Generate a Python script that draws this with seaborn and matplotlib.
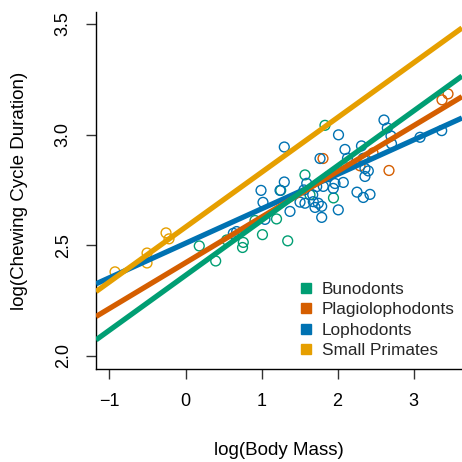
import numpy as np
import pandas as pd
import seaborn as sns
import matplotlib
matplotlib.use("Agg")
import matplotlib.pyplot as plt
from matplotlib.lines import Line2D

# ---- data -------------------------------------------------------------
groups = ["Bunodonts", "Plagiolophodonts", "Lophodonts", "Small Primates"]
colors = ["#009E73", "#D55E00", "#0072B2", "#E69F00"]

buno_x = [0.181, 0.397, 0.542, 0.760, 0.750, 1.012, 0.914, 1.197, 1.344, 1.252,
          1.571, 1.637, 1.834, 1.946]
buno_y = [2.497, 2.429, 2.524, 2.513, 2.490, 2.548, 2.612, 2.619, 2.520, 2.748,
          2.818, 2.728, 3.042, 2.714]

plagio_x = [1.808, 2.295, 2.466, 2.676, 3.373, 3.452]
plagio_y = [2.892, 2.859, 2.917, 2.838, 3.157, 3.184]

loph_x = [0.629, 0.673, 0.993, 1.019, 1.045, 1.243, 1.299, 1.299, 1.374, 1.506,
          1.558, 1.594, 1.571, 1.680, 1.703, 1.791, 1.791, 1.769, 1.812, 1.943,
          1.966, 2.075, 2.009, 2.012, 2.097, 2.130, 2.314, 2.255, 2.338, 2.426,
          2.360, 2.404, 2.360, 2.338, 2.610, 2.654, 2.702, 2.709, 3.084, 3.369,
          1.878, 1.725, 1.673, 1.746]
loph_y = [2.554, 2.562, 2.748, 2.694, 2.617, 2.748, 2.786, 2.944, 2.653, 2.695,
          2.750, 2.780, 2.690, 2.697, 2.671, 2.676, 2.626, 2.892, 2.766, 2.757,
          2.779, 2.784, 2.660, 2.999, 2.933, 2.893, 2.949, 2.740, 2.716, 2.730,
          2.847, 2.836, 2.811, 2.893, 3.066, 3.030, 2.994, 2.959, 2.988, 3.018,
          2.810, 2.765, 2.728, 2.690]

prim_x = [-0.927, -0.506, -0.506, -0.256, -0.217]
prim_y = [2.380, 2.465, 2.420, 2.556, 2.529]

# fitted lines (intercept, slope) in legend order
intercepts = [2.364, 2.421, 2.509, 2.582]
slopes = [0.2477, 0.2064, 0.1557, 0.2475]

x_ticks = [-1, 0, 1, 2, 3]
y_ticks = [2.0, 2.5, 3.0, 3.5]
y_tick_labels = ["2.0", "2.5", "3.0", "3.5"]

# ---- build frame -------------------------------------------------------
df = pd.concat([
    pd.DataFrame({"x": buno_x, "y": buno_y, "group": groups[0]}),
    pd.DataFrame({"x": plagio_x, "y": plagio_y, "group": groups[1]}),
    pd.DataFrame({"x": loph_x, "y": loph_y, "group": groups[2]}),
    pd.DataFrame({"x": prim_x, "y": prim_y, "group": groups[3]}),
], ignore_index=True)

sns.set_theme(style="ticks")
plt.rcParams["font.family"] = ["Liberation Sans", "DejaVu Sans"]

W = 462
fig = plt.figure(figsize=(W / 100, W / 100), dpi=100)
ax = fig.add_axes([96 / W, 93 / W, 366 / W, 357 / W])

pal = dict(zip(groups, colors))
sns.scatterplot(data=df, x="x", y="y", hue="group", palette=pal, s=50,
                linewidth=1.0, legend=False, ax=ax, zorder=2)
coll = ax.collections[0]
fc = coll.get_facecolors()
coll.set_edgecolors(fc)
coll.set_facecolors("none")

# lines: draw blue, orange, green, yellow
for i in [2, 1, 0, 3]:
    ax.axline((0, intercepts[i]), slope=slopes[i], color=colors[i], lw=3.8,
              zorder=3, solid_capstyle="butt")

ax.set_xlim(-1.177, 3.636)
ax.set_ylim(1.941, 3.554)
ax.set_xticks(x_ticks)
ax.set_xticklabels([str(v).replace("-", "\u2212") for v in x_ticks])
ax.set_yticks(y_ticks)
ax.set_yticklabels(y_tick_labels, rotation=90, va="center")

for s in ["top", "right"]:
    ax.spines[s].set_visible(False)
for s in ["left", "bottom"]:
    ax.spines[s].set_linewidth(1.0)
    ax.spines[s].set_color("black")
ax.tick_params(axis="both", length=7.5, width=1.0, color="#333333",
               labelsize=13, labelcolor="black")
ax.tick_params(axis="x", pad=10)
ax.tick_params(axis="y", pad=10)

ax.set_xlabel("log(Body Mass)", fontsize=13.5, color="black")
ax.set_ylabel("log(Chewing Cycle Duration)", fontsize=13.5, color="black")
ax.xaxis.set_label_coords(0.5, -0.227)
ax.xaxis.label.set_va("center")
ax.yaxis.set_label_coords(-0.21, 0.5)
ax.yaxis.label.set_va("center")

handles = [Line2D([0], [0], marker="s", linestyle="none", markersize=7,
                  markerfacecolor=c, markeredgecolor=c) for c in colors]
leg = ax.legend(handles, groups, loc="lower left",
                bbox_to_anchor=(0.535, 0.012), frameon=False, fontsize=12.4,
                handlelength=0.8, handletextpad=0.55, labelspacing=0.30,
                borderaxespad=0)

fig.savefig("out.png", dpi=100)
